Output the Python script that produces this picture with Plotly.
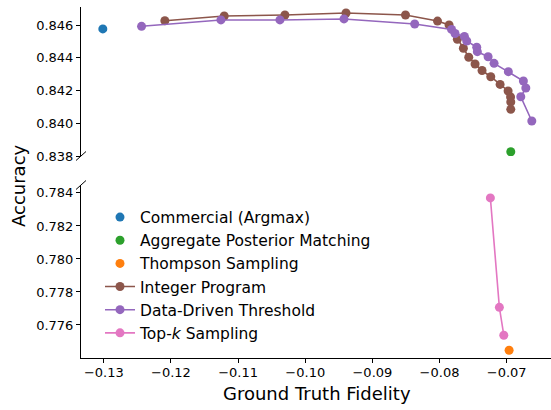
import plotly.graph_objects as go

# ---- data ----
commercial_x = [-0.13015]
commercial_y = [0.84576]

apm_x = [-0.06939]
apm_y = [0.83826]

thompson_x = [-0.06964]
thompson_y = [0.77447]

ip_x = [-0.12091, -0.11207, -0.10303, -0.09393, -0.08507, -0.08030, -0.07858,
        -0.07735, -0.07645, -0.07565, -0.07471, -0.07367, -0.07237, -0.07098,
        -0.06979, -0.06942, -0.06939, -0.06939]
ip_y = [0.84626, 0.84655, 0.84661, 0.84673, 0.84661, 0.84624, 0.84600,
        0.84513, 0.84458, 0.84403, 0.84362, 0.84322, 0.84284, 0.84237,
        0.84197, 0.84160, 0.84130, 0.84085]

ddt_x = [-0.12438, -0.11256, -0.10377, -0.09423, -0.08370, -0.07821, -0.07769,
         -0.07630, -0.07595, -0.07446, -0.07437, -0.07277, -0.07188, -0.06975,
         -0.06751, -0.06715, -0.06790, -0.06626]
ddt_y = [0.84592, 0.84631, 0.84631, 0.84637, 0.84606, 0.84573, 0.84548,
         0.84530, 0.84502, 0.84464, 0.84437, 0.84406, 0.84366, 0.84315,
         0.84258, 0.84215, 0.84162, 0.84014]

topk_x = [-0.07243, -0.07109, -0.07043]
topk_y = [0.78370, 0.77707, 0.77538]

x_ticks = [-0.13, -0.12, -0.11, -0.10, -0.09, -0.08, -0.07]
x_tick_labels = ["\u22120.13", "\u22120.12", "\u22120.11", "\u22120.10", "\u22120.09", "\u22120.08", "\u22120.07"]
top_ticks = [0.838, 0.840, 0.842, 0.844, 0.846]
bottom_ticks = [0.776, 0.778, 0.780, 0.782, 0.784]

series = [
    ("Commercial (Argmax)", commercial_x, commercial_y, "#1f77b4", "markers"),
    ("Aggregate Posterior Matching", apm_x, apm_y, "#2ca02c", "markers"),
    ("Thompson Sampling", thompson_x, thompson_y, "#ff7f0e", "markers"),
    ("Integer Program", ip_x, ip_y, "#8c564b", "lines+markers"),
    ("Data-Driven Threshold", ddt_x, ddt_y, "#9467bd", "lines+markers"),
    ("Top-<i>k</i> Sampling", topk_x, topk_y, "#e377c2", "lines+markers"),
]

fig = go.Figure()
for name, xs, ys, col, mode in series:
    for yax, show in (("y", True), ("y2", False)):
        fig.add_trace(go.Scatter(
            x=xs, y=ys, mode=mode, name=name, legendgroup=name,
            showlegend=show, xaxis="x", yaxis=yax,
            marker=dict(color=col, size=9),
            line=dict(color=col, width=1.6),
        ))

W, H = 551, 410
L, R, T, B = 81, 0, 6, 52
ph = H - T - B  # 352
pw = W - L - R

def py(pix):
    return (H - B - pix) / ph

def px(pix):
    return (pix - L) / pw

axis_font = dict(family="DejaVu Sans", size=13, color="black")

fig.update_layout(
    width=W, height=H,
    margin=dict(l=L, r=R, t=T, b=B),
    plot_bgcolor="white", paper_bgcolor="white",
    font=dict(family="DejaVu Sans", color="black"),
    xaxis=dict(
        range=[-0.1334, -0.0634], anchor="y",
        tickvals=x_ticks, ticktext=x_tick_labels,
        showline=True, linecolor="black", linewidth=1,
        ticks="outside", ticklen=4, tickcolor="black",
        ticklabelstandoff=-2,
        showgrid=False, zeroline=False, tickfont=axis_font,
    ),
    yaxis=dict(
        domain=[0, py(185)], range=[0.774, 0.78448],
        tickvals=bottom_ticks, tickformat=".3f",
        showline=True, linecolor="black", linewidth=1,
        ticks="outside", ticklen=4, tickcolor="black",
        showgrid=False, zeroline=False, tickfont=axis_font,
    ),
    yaxis2=dict(
        domain=[py(156), py(6.5)], range=[0.838, 0.84713], anchor="x",
        tickvals=top_ticks, tickformat=".3f",
        showline=True, linecolor="black", linewidth=1,
        ticks="outside", ticklen=4, tickcolor="black",
        showgrid=False, zeroline=False, tickfont=axis_font,
    ),
    legend=dict(
        x=px(100), y=py(200.5), xanchor="left", yanchor="top",
        font=dict(family="DejaVu Sans", size=15.5, color="black"),
        bgcolor="rgba(0,0,0,0)", borderwidth=0, tracegroupgap=0,
    ),
    showlegend=True,
)

# break marks
for cy in (156, 185):
    fig.add_shape(type="line", xref="paper", yref="paper",
                  x0=px(76), y0=py(cy + 4.5), x1=px(86), y1=py(cy - 4.5),
                  line=dict(color="black", width=1))

fig.add_annotation(text="Accuracy", xref="paper", yref="paper",
                   x=px(18), y=py(186), textangle=-90, showarrow=False,
                   font=dict(family="DejaVu Sans", size=18, color="black"),
                   xanchor="center", yanchor="middle")
fig.add_annotation(text="Ground Truth Fidelity", xref="paper", yref="paper",
                   x=px(317), y=py(393), showarrow=False,
                   font=dict(family="DejaVu Sans", size=18, color="black"),
                   xanchor="center", yanchor="middle")

fig.write_html("out.html")
